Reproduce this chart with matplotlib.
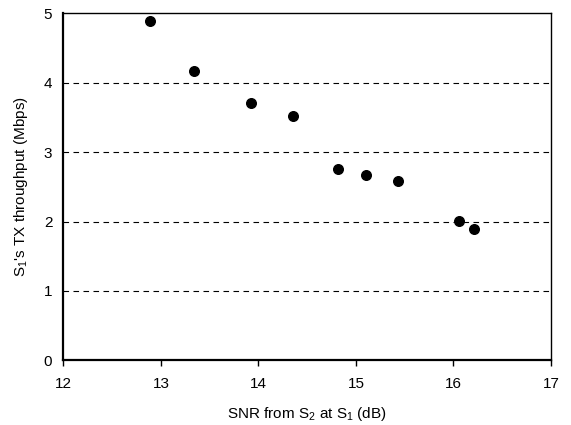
import matplotlib
matplotlib.use('Agg')
import matplotlib.pyplot as plt

plt.rcParams['font.family'] = ['Liberation Sans', 'DejaVu Sans']
plt.rcParams['mathtext.fontset'] = 'custom'
plt.rcParams['mathtext.rm'] = 'Liberation Sans'
plt.rcParams['mathtext.it'] = 'Liberation Sans'

# SNR (dB) vs throughput (Mbps)
snr = [12.89, 13.34, 13.92, 14.35, 14.82, 15.10, 15.43, 16.06, 16.21]
throughput = [4.89, 4.17, 3.71, 3.52, 2.76, 2.67, 2.59, 2.01, 1.89]

x_ticks = [12, 13, 14, 15, 16, 17]
y_ticks = [0, 1, 2, 3, 4, 5]

fig = plt.figure(figsize=(5.71, 4.25), dpi=100)
ax = fig.add_axes([0.111, 0.152, 0.854, 0.817])

ax.scatter(snr, throughput, s=48, color='black', zorder=3)

ax.set_xlim(12, 17)
ax.set_ylim(0, 5)
ax.set_xticks(x_ticks)
ax.set_yticks(y_ticks)
for y in y_ticks[1:-1]:
    ax.axhline(y, color='black', lw=0.8, ls=(0, (5, 4)), zorder=1)

ax.tick_params(axis='x', direction='out', length=4, width=1, labelsize=11, pad=8)
ax.tick_params(axis='y', length=0, labelsize=11, pad=8)

ax.spines['left'].set_linewidth(1.6)
ax.spines['bottom'].set_linewidth(1.6)
ax.spines['top'].set_linewidth(1.0)
ax.spines['right'].set_linewidth(1.0)

ax.set_xlabel('SNR from S$_\\mathrm{2}$ at S$_\\mathrm{1}$ (dB)', fontsize=11, labelpad=10)
ax.set_ylabel("S$_\\mathrm{1}$'s TX throughput (Mbps)", fontsize=11, labelpad=10)

plt.savefig('out.png', dpi=100)
